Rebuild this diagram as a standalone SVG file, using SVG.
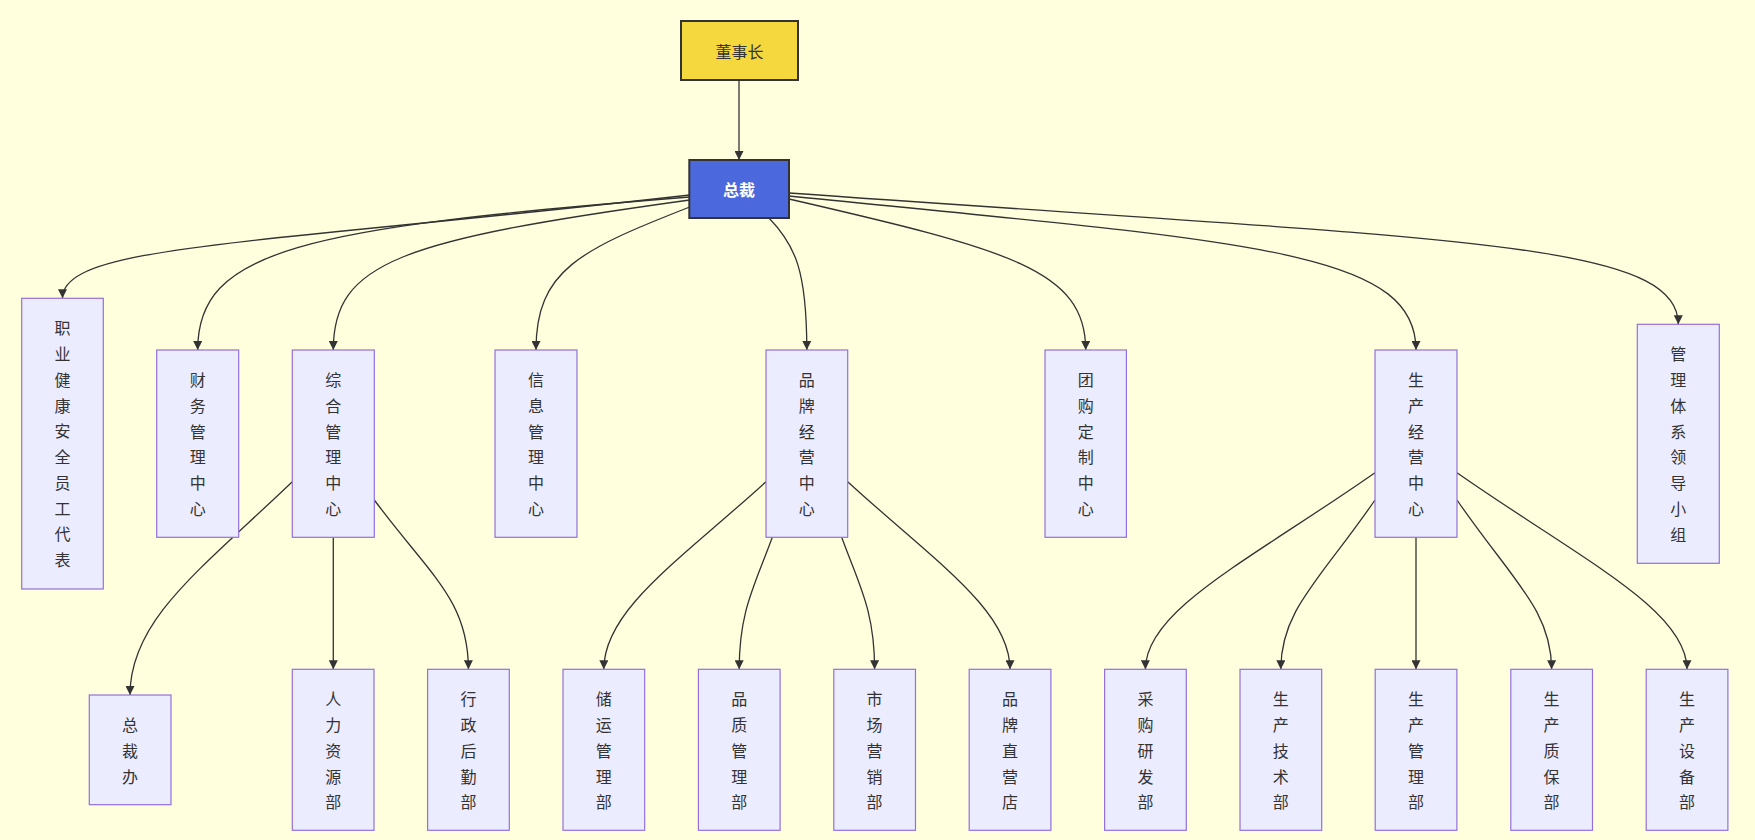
<svg xmlns="http://www.w3.org/2000/svg" width="1755" height="840" viewBox="0 0 1755 840">
<defs>
<style>
.bg{fill:#FFFFDE}
.n rect{fill:#ECECFF;stroke:#9370DB;stroke-width:1.2}
.t{font-family:"Noto Sans CJK SC","Noto Sans",sans-serif;font-size:16px;fill:#333;text-anchor:middle;dominant-baseline:central}
.e path{fill:none;stroke:#333;stroke-width:1.3;marker-end:url(#arr)}
</style>
<marker id="arr" viewBox="0 0 10 10" refX="10" refY="5" markerWidth="9" markerHeight="9" markerUnits="userSpaceOnUse" orient="auto"><path d="M0,0 L10,5 L0,10 z" fill="#333"/></marker>
</defs>
<rect class="bg" x="0" y="0" width="1755" height="840"/>

<g class="e" id="connectors">
<path d="M739,80 L739,160"/>
<path d="M689.7,195 C250,245 62.5,245 62.5,298.3"/>
<path d="M689.7,197 C300,228 197.7,250 197.7,350"/>
<path d="M689.7,200 C400,240 333.3,262 333.3,350"/>
<path d="M689.7,207 C580,250 536,270 536,350"/>
<path d="M769,218 C795,245 806.8,270 806.8,350"/>
<path d="M789,199 C1010,250 1085.7,270 1085.7,350"/>
<path d="M789,196 C1250,242 1416,250 1416,350"/>
<path d="M789,193 C1450,240 1678.3,240 1678.3,324.3"/>
<path d="M292.3,481.7 C200,570 130,620 130,695"/>
<path d="M333.3,537.3 L333.3,669.3"/>
<path d="M374.3,500 C430,575 468.4,600 468.4,669.3"/>
<path d="M766,481.7 C680,560 603.8,610 603.8,669.3"/>
<path d="M772.3,537.3 C755,585 739.2,610 739.2,669.3"/>
<path d="M841.7,537.3 C859,585 874.6,610 874.6,669.3"/>
<path d="M847.7,481.7 C933,560 1010,610 1010,669.3"/>
<path d="M1375,472.7 C1250,560 1145.4,610 1145.4,669.3"/>
<path d="M1375,500 C1320,580 1280.8,610 1280.8,669.3"/>
<path d="M1416,537.3 L1416,669.3"/>
<path d="M1457,500 C1512,580 1551.6,610 1551.6,669.3"/>
<path d="M1457,472.7 C1582,560 1687,610 1687,669.3"/>
</g>

<g id="n-chairman"><rect x="681" y="21" width="117" height="59" fill="#F4D83D" stroke="#333" stroke-width="2"/><text class="t" x="739.5" y="50.5">董事长</text></g>
<g id="n-president"><rect x="689.3" y="160" width="99.7" height="58" fill="#4B69DC" stroke="#333" stroke-width="2"/><text class="t" x="739" y="189" style="fill:#fff;font-weight:bold">总裁</text></g>

<g class="n" id="n-ohs"><rect x="21.7" y="298.3" width="81.6" height="290.7"/><text class="t" x="62.5" y="327.4">职<tspan x="62.5" dy="25.75">业</tspan><tspan x="62.5" dy="25.75">健</tspan><tspan x="62.5" dy="25.75">康</tspan><tspan x="62.5" dy="25.75">安</tspan><tspan x="62.5" dy="25.75">全</tspan><tspan x="62.5" dy="25.75">员</tspan><tspan x="62.5" dy="25.75">工</tspan><tspan x="62.5" dy="25.75">代</tspan><tspan x="62.5" dy="25.75">表</tspan></text></g>
<g class="n" id="n-finance"><rect x="156.7" y="350" width="82" height="187.3"/><text class="t" x="197.7" y="379.1">财<tspan x="197.7" dy="25.75">务</tspan><tspan x="197.7" dy="25.75">管</tspan><tspan x="197.7" dy="25.75">理</tspan><tspan x="197.7" dy="25.75">中</tspan><tspan x="197.7" dy="25.75">心</tspan></text></g>
<g class="n" id="n-general"><rect x="292.3" y="350" width="82" height="187.3"/><text class="t" x="333.3" y="379.1">综<tspan x="333.3" dy="25.75">合</tspan><tspan x="333.3" dy="25.75">管</tspan><tspan x="333.3" dy="25.75">理</tspan><tspan x="333.3" dy="25.75">中</tspan><tspan x="333.3" dy="25.75">心</tspan></text></g>
<g class="n" id="n-info"><rect x="495" y="350" width="82" height="187.3"/><text class="t" x="536" y="379.1">信<tspan x="536" dy="25.75">息</tspan><tspan x="536" dy="25.75">管</tspan><tspan x="536" dy="25.75">理</tspan><tspan x="536" dy="25.75">中</tspan><tspan x="536" dy="25.75">心</tspan></text></g>
<g class="n" id="n-brand"><rect x="766" y="350" width="81.7" height="187.3"/><text class="t" x="806.8" y="379.1">品<tspan x="806.8" dy="25.75">牌</tspan><tspan x="806.8" dy="25.75">经</tspan><tspan x="806.8" dy="25.75">营</tspan><tspan x="806.8" dy="25.75">中</tspan><tspan x="806.8" dy="25.75">心</tspan></text></g>
<g class="n" id="n-group"><rect x="1045" y="350" width="81.4" height="187.3"/><text class="t" x="1085.7" y="379.1">团<tspan x="1085.7" dy="25.75">购</tspan><tspan x="1085.7" dy="25.75">定</tspan><tspan x="1085.7" dy="25.75">制</tspan><tspan x="1085.7" dy="25.75">中</tspan><tspan x="1085.7" dy="25.75">心</tspan></text></g>
<g class="n" id="n-prod"><rect x="1375" y="350" width="82" height="187.3"/><text class="t" x="1416" y="379.1">生<tspan x="1416" dy="25.75">产</tspan><tspan x="1416" dy="25.75">经</tspan><tspan x="1416" dy="25.75">营</tspan><tspan x="1416" dy="25.75">中</tspan><tspan x="1416" dy="25.75">心</tspan></text></g>
<g class="n" id="n-mgmt"><rect x="1637.3" y="324.3" width="82" height="239"/><text class="t" x="1678.3" y="353.4">管<tspan x="1678.3" dy="25.75">理</tspan><tspan x="1678.3" dy="25.75">体</tspan><tspan x="1678.3" dy="25.75">系</tspan><tspan x="1678.3" dy="25.75">领</tspan><tspan x="1678.3" dy="25.75">导</tspan><tspan x="1678.3" dy="25.75">小</tspan><tspan x="1678.3" dy="25.75">组</tspan></text></g>

<g class="n" id="n-office"><rect x="89.3" y="695" width="81.7" height="109.7"/><text class="t" x="130" y="724.1">总<tspan x="130" dy="25.75">裁</tspan><tspan x="130" dy="25.75">办</tspan></text></g>
<g class="n" id="n-hr"><rect x="292.3" y="669.3" width="81.7" height="161"/><text class="t" x="333.2" y="698.4">人<tspan x="333.2" dy="25.75">力</tspan><tspan x="333.2" dy="25.75">资</tspan><tspan x="333.2" dy="25.75">源</tspan><tspan x="333.2" dy="25.75">部</tspan></text></g>
<g class="n" id="n-admin"><rect x="427.6" y="669.3" width="81.7" height="161"/><text class="t" x="468.4" y="698.4">行<tspan x="468.4" dy="25.75">政</tspan><tspan x="468.4" dy="25.75">后</tspan><tspan x="468.4" dy="25.75">勤</tspan><tspan x="468.4" dy="25.75">部</tspan></text></g>
<g class="n" id="n-logistics"><rect x="563" y="669.3" width="81.7" height="161"/><text class="t" x="603.8" y="698.4">储<tspan x="603.8" dy="25.75">运</tspan><tspan x="603.8" dy="25.75">管</tspan><tspan x="603.8" dy="25.75">理</tspan><tspan x="603.8" dy="25.75">部</tspan></text></g>
<g class="n" id="n-quality"><rect x="698.4" y="669.3" width="81.7" height="161"/><text class="t" x="739.2" y="698.4">品<tspan x="739.2" dy="25.75">质</tspan><tspan x="739.2" dy="25.75">管</tspan><tspan x="739.2" dy="25.75">理</tspan><tspan x="739.2" dy="25.75">部</tspan></text></g>
<g class="n" id="n-marketing"><rect x="833.8" y="669.3" width="81.7" height="161"/><text class="t" x="874.6" y="698.4">市<tspan x="874.6" dy="25.75">场</tspan><tspan x="874.6" dy="25.75">营</tspan><tspan x="874.6" dy="25.75">销</tspan><tspan x="874.6" dy="25.75">部</tspan></text></g>
<g class="n" id="n-store"><rect x="969.2" y="669.3" width="81.7" height="161"/><text class="t" x="1010" y="698.4">品<tspan x="1010" dy="25.75">牌</tspan><tspan x="1010" dy="25.75">直</tspan><tspan x="1010" dy="25.75">营</tspan><tspan x="1010" dy="25.75">店</tspan></text></g>
<g class="n" id="n-purchase"><rect x="1104.6" y="669.3" width="81.7" height="161"/><text class="t" x="1145.4" y="698.4">采<tspan x="1145.4" dy="25.75">购</tspan><tspan x="1145.4" dy="25.75">研</tspan><tspan x="1145.4" dy="25.75">发</tspan><tspan x="1145.4" dy="25.75">部</tspan></text></g>
<g class="n" id="n-tech"><rect x="1240" y="669.3" width="81.7" height="161"/><text class="t" x="1280.8" y="698.4">生<tspan x="1280.8" dy="25.75">产</tspan><tspan x="1280.8" dy="25.75">技</tspan><tspan x="1280.8" dy="25.75">术</tspan><tspan x="1280.8" dy="25.75">部</tspan></text></g>
<g class="n" id="n-prodmgmt"><rect x="1375.2" y="669.3" width="81.7" height="161"/><text class="t" x="1416" y="698.4">生<tspan x="1416" dy="25.75">产</tspan><tspan x="1416" dy="25.75">管</tspan><tspan x="1416" dy="25.75">理</tspan><tspan x="1416" dy="25.75">部</tspan></text></g>
<g class="n" id="n-qa"><rect x="1510.8" y="669.3" width="81.7" height="161"/><text class="t" x="1551.6" y="698.4">生<tspan x="1551.6" dy="25.75">产</tspan><tspan x="1551.6" dy="25.75">质</tspan><tspan x="1551.6" dy="25.75">保</tspan><tspan x="1551.6" dy="25.75">部</tspan></text></g>
<g class="n" id="n-equip"><rect x="1646.2" y="669.3" width="81.7" height="161"/><text class="t" x="1687" y="698.4">生<tspan x="1687" dy="25.75">产</tspan><tspan x="1687" dy="25.75">设</tspan><tspan x="1687" dy="25.75">备</tspan><tspan x="1687" dy="25.75">部</tspan></text></g>
</svg>
